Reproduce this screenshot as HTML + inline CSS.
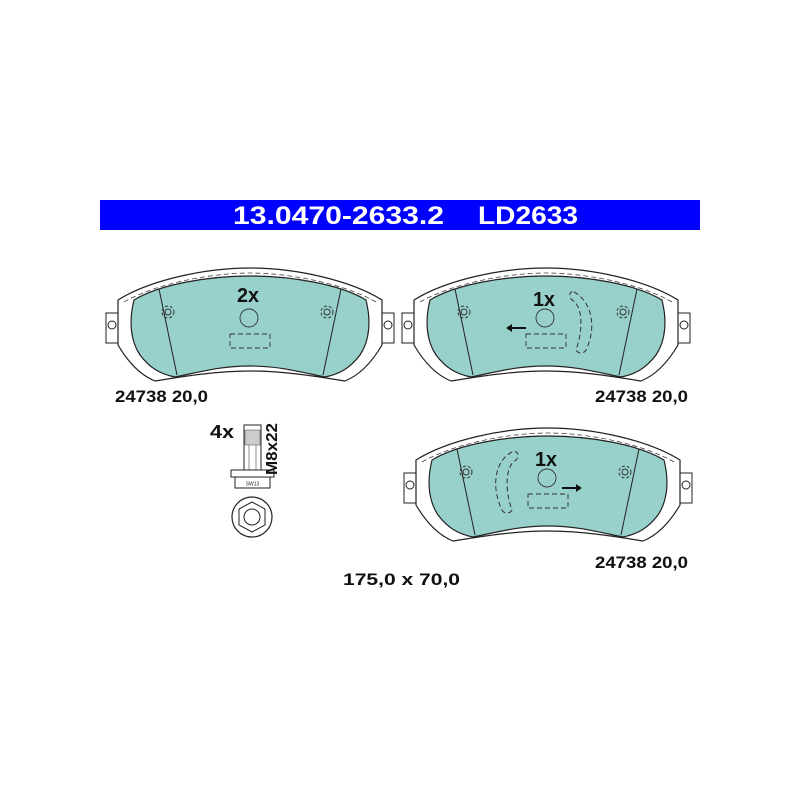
<!DOCTYPE html>
<html><head><style>
body{margin:0;background:#fff;width:800px;height:800px;overflow:hidden;font-family:"Liberation Sans",sans-serif}
</style></head><body>
<svg width="800" height="800" viewBox="0 0 800 800" xmlns="http://www.w3.org/2000/svg" font-family="Liberation Sans, sans-serif">
<defs>
<g id="pad">
  <rect x="106" y="313" width="15" height="30" fill="#fff" stroke="#222" stroke-width="1"/>
  <rect x="379" y="313" width="15" height="30" fill="#fff" stroke="#222" stroke-width="1"/>
  <circle cx="112" cy="325" r="4" fill="none" stroke="#222"/>
  <circle cx="388" cy="325" r="4" fill="none" stroke="#222"/>
  <path d="M118,300 C150,280 205,268 250,268 C295,268 350,280 382,300 L382,345 C372,362 360,375 345,381 C320,377 285,371 250,371 C215,371 180,377 155,381 C140,375 128,362 118,345 Z" fill="#fff" stroke="#222" stroke-width="1.2"/>
  <path d="M124,302 C155,284 210,273 250,273 C290,273 345,284 376,302" fill="none" stroke="#444" stroke-width="0.8" stroke-dasharray="5,3"/>
  <path d="M134,300 C160,284 210,276 250,276 C290,276 340,284 366,300 C371,320 370,340 360,355 C350,368 340,374 325,377 C300,372 280,366 250,366 C220,366 200,372 175,377 C160,374 150,368 140,355 C130,340 129,320 134,300 Z" fill="#98d1cc" stroke="#222" stroke-width="1.2"/>
  <line x1="159" y1="289" x2="177" y2="375" stroke="#222" stroke-width="1"/>
  <line x1="341" y1="289" x2="323" y2="375" stroke="#222" stroke-width="1"/>
  <circle cx="168" cy="312" r="6" fill="none" stroke="#333" stroke-dasharray="3,2"/>
  <circle cx="168" cy="312" r="3" fill="none" stroke="#333"/>
  <circle cx="327" cy="312" r="6" fill="none" stroke="#333" stroke-dasharray="3,2"/>
  <circle cx="327" cy="312" r="3" fill="none" stroke="#333"/>
  <circle cx="249" cy="318" r="9" fill="none" stroke="#333" stroke-width="0.9"/>
  <rect x="230" y="334" width="40" height="14" fill="none" stroke="#333" stroke-width="0.9" stroke-dasharray="5,3"/>
</g>
</defs>
<rect x="100" y="200" width="600" height="30" fill="#0000ff"/>
<text x="233" y="224" fill="#fff" font-size="25" font-weight="bold" textLength="211" lengthAdjust="spacingAndGlyphs">13.0470-2633.2</text>
<text x="478" y="224" fill="#fff" font-size="25" font-weight="bold" textLength="100" lengthAdjust="spacingAndGlyphs">LD2633</text>

<use href="#pad"/>
<text x="237" y="302" font-size="20" font-weight="bold" fill="#111" textLength="22" lengthAdjust="spacingAndGlyphs">2x</text>
<text x="115" y="402" font-size="17" font-weight="bold" fill="#111" textLength="93" lengthAdjust="spacingAndGlyphs">24738 20,0</text>

<use href="#pad" transform="translate(296,0)"/>
<text x="533" y="306" font-size="20" font-weight="bold" fill="#111" textLength="22" lengthAdjust="spacingAndGlyphs">1x</text>
<path d="M574,292 C590,300 598,325 586,350 C584,354 578,354 576,350 C584,328 582,305 572,300 C568,296 570,290 574,292 Z" fill="none" stroke="#333" stroke-dasharray="5,3"/>
<line x1="510" y1="328" x2="526" y2="328" stroke="#111" stroke-width="2"/>
<path d="M506,328 L512,324 L512,332 Z" fill="#111"/>
<text x="595" y="402" font-size="17" font-weight="bold" fill="#111" textLength="93" lengthAdjust="spacingAndGlyphs">24738 20,0</text>

<use href="#pad" transform="translate(298,160)"/>
<text x="535" y="466" font-size="20" font-weight="bold" fill="#111" textLength="22" lengthAdjust="spacingAndGlyphs">1x</text>
<path d="M512,452 C496,460 490,485 502,510 C504,514 510,514 512,510 C504,488 506,465 516,460 C520,456 518,450 512,452 Z" fill="none" stroke="#333" stroke-dasharray="5,3"/>
<line x1="562" y1="488" x2="578" y2="488" stroke="#111" stroke-width="2"/>
<path d="M582,488 L576,484 L576,492 Z" fill="#111"/>
<text x="595" y="568" font-size="17" font-weight="bold" fill="#111" textLength="93" lengthAdjust="spacingAndGlyphs">24738 20,0</text>

<text x="210" y="438" font-size="18" font-weight="bold" fill="#111" textLength="24" lengthAdjust="spacingAndGlyphs">4x</text>
<rect x="244" y="425" width="17" height="45" fill="#fff" stroke="#222"/>
<rect x="245" y="430" width="15" height="15" fill="#ccc" stroke="#444" stroke-width="0.5"/>
<line x1="249" y1="445" x2="249" y2="470" stroke="#444" stroke-width="0.6"/>
<line x1="256" y1="445" x2="256" y2="470" stroke="#444" stroke-width="0.6"/>
<rect x="231" y="470" width="43" height="7" fill="#fff" stroke="#222"/>
<rect x="235" y="477" width="35" height="11" fill="#fff" stroke="#222"/>
<text x="252.5" y="485.5" font-size="5" text-anchor="middle" fill="#222">SW13</text>
<text transform="translate(277,475) rotate(-90)" font-size="16" font-weight="bold" fill="#111" textLength="52" lengthAdjust="spacingAndGlyphs">M8x22</text>
<circle cx="252" cy="517" r="20" fill="#fff" stroke="#222" stroke-width="1.2"/>
<polygon points="252,502 265,509 265,525 252,532 239,525 239,509" fill="none" stroke="#222"/>
<circle cx="252" cy="517" r="8" fill="none" stroke="#222"/>
<text x="343" y="585" font-size="17" font-weight="bold" fill="#111" textLength="117" lengthAdjust="spacingAndGlyphs">175,0 x 70,0</text>
</svg>
</body></html>
